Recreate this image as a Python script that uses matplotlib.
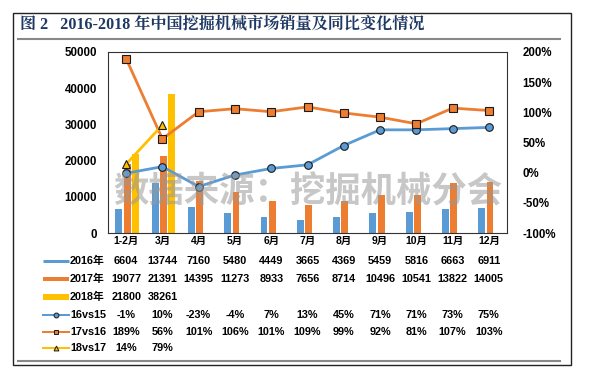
import matplotlib
matplotlib.use("Agg")
import matplotlib.pyplot as plt
import matplotlib.lines as mlines
from matplotlib.patches import Rectangle
from matplotlib.transforms import blended_transform_factory
import numpy as np

months = ['1-2月', '3月', '4月', '5月', '6月', '7月', '8月', '9月', '10月', '11月', '12月']
sales_2016 = [6604, 13744, 7160, 5480, 4449, 3665, 4369, 5459, 5816, 6663, 6911]
sales_2017 = [19077, 21391, 14395, 11273, 8933, 7656, 8714, 10496, 10541, 13822, 14005]
sales_2018 = [21800, 38261]
yoy_16 = [-1, 10, -23, -4, 7, 13, 45, 71, 71, 73, 75]
yoy_17 = [189, 56, 101, 106, 101, 109, 99, 92, 81, 107, 103]
yoy_18 = [14, 79]

BLUE = '#5B9BD5'
ORANGE = '#ED7D31'
YELLOW = '#FFC000'
NAVY = '#1F3864'
FONT = ['Liberation Sans', 'Noto Sans CJK SC']

plt.rcParams['font.family'] = FONT

W, H = 592, 376
fig = plt.figure(figsize=(W / 100, H / 100), dpi=100)


def px(x, y):
    # pixel coords (top-left origin) -> figure fraction
    return x / W, 1 - y / H


# outer frame and title
fig.patches.append(Rectangle(px(13, 365), 558 / W, 352 / H, transform=fig.transFigure,
                             fill=False, edgecolor='#222222', linewidth=1))
fig.text(*px(20, 25), '图 2   2016-2018 年中国挖掘机械市场销量及同比变化情况',
         family=['Liberation Serif', 'Noto Serif CJK SC', 'Noto Sans CJK SC'],
         fontsize=11.6, fontweight='bold', color=NAVY, va='center', ha='left')
for y in (39, 361):
    fig.add_artist(mlines.Line2D([18 / W, 560 / W], [1 - y / H] * 2,
                                 color='#888888', linewidth=1.5))

# main axes
l, b = px(108, 233)
ax = fig.add_axes([l, b, 399 / W, 181 / H])
x = np.arange(len(months))
bw = 0.19
ax.bar(x - 0.2, sales_2016, bw, color=BLUE, zorder=2)
ax.bar(x + 0.03, sales_2017, bw, color=ORANGE, zorder=2)
ax.bar(x[:len(sales_2018)] + 0.25, sales_2018, bw, color=YELLOW, zorder=2)
ax.set_xlim(-0.5, len(months) - 0.5)
ax.set_ylim(0, 50000)
ax.set_yticks(range(0, 50001, 10000))
ax.set_xticks([])
ax.tick_params(axis='y', length=0, pad=8, labelsize=8.3)
for lab in ax.get_yticklabels():
    lab.set_fontweight('bold')
for s in ax.spines.values():
    s.set_color('#333333')
    s.set_linewidth(0.8)

ax2 = ax.twinx()
ax2.set_ylim(-100, 200)
ax2.set_yticks(range(-100, 201, 50))
ax2.set_yticklabels([f'{v}%' for v in range(-100, 201, 50)])
ax2.tick_params(axis='y', length=0, pad=11, labelsize=8.3)
for lab in ax2.get_yticklabels():
    lab.set_fontweight('bold')
for s in ax2.spines.values():
    s.set_visible(False)

ax2.plot(x, yoy_16, color=BLUE, lw=2, marker='o', ms=5.5, mfc=BLUE,
         mec='#1a1a1a', mew=0.8, zorder=3)
ax2.plot(x, yoy_17, color=ORANGE, lw=2, marker='s', ms=5.5, mfc=ORANGE,
         mec='#1a1a1a', mew=0.8, zorder=3)
ax2.plot(x[:len(yoy_18)], yoy_18, color=YELLOW, lw=2, marker='^', ms=5.5,
         mfc=YELLOW, mec='#1a1a1a', mew=0.8, zorder=3)

# watermark
fig.text(*px(308, 192), '数据来源：挖掘机械分会', fontsize=25.5, fontweight='bold',
         color='#9a9a9a', alpha=0.55, ha='center', va='center')

# data table under the chart
tr = blended_transform_factory(ax.transData, fig.transFigure)
for i, m in enumerate(months):
    ax.text(i, 1 - 241 / H, m, transform=tr, ha='center', va='center',
            fontsize=7.5, fontweight='bold', clip_on=False)

rows = [
    ('2016年', [str(v) for v in sales_2016], 261, BLUE, 'bar', 3),
    ('2017年', [str(v) for v in sales_2017], 279, ORANGE, 'bar', 4),
    ('2018年', [str(v) for v in sales_2018], 297, YELLOW, 'bar', 6),
    ('16vs15', [f'{v}%' for v in yoy_16], 315, BLUE, 'o', 2),
    ('17vs16', [f'{v}%' for v in yoy_17], 332, ORANGE, 's', 2),
    ('18vs17', [f'{v}%' for v in yoy_18], 348, YELLOW, '^', 2),
]
for label, vals, y, col, kind, lw in rows:
    yf = 1 - y / H
    if kind == 'bar':
        fig.add_artist(mlines.Line2D([43 / W, 69 / W], [yf, yf], color=col,
                                     linewidth=lw * 0.72, solid_capstyle='butt'))
    else:
        fig.add_artist(mlines.Line2D([43 / W, 69 / W], [yf, yf], color=col,
                                     linewidth=lw * 0.72))
        fig.add_artist(mlines.Line2D([56 / W], [yf], marker=kind, ms=3.5,
                                     mfc=col, mec='#1a1a1a', mew=0.7,
                                     linestyle='none'))
    fig.text(70 / W, yf, label, ha='left', va='center', fontsize=7.8,
             fontweight='bold')
    for i, v in enumerate(vals):
        ax.text(i, yf, v, transform=tr, ha='center', va='center',
                fontsize=7.8, fontweight='bold', clip_on=False)

fig.savefig('out.png', dpi=100)
